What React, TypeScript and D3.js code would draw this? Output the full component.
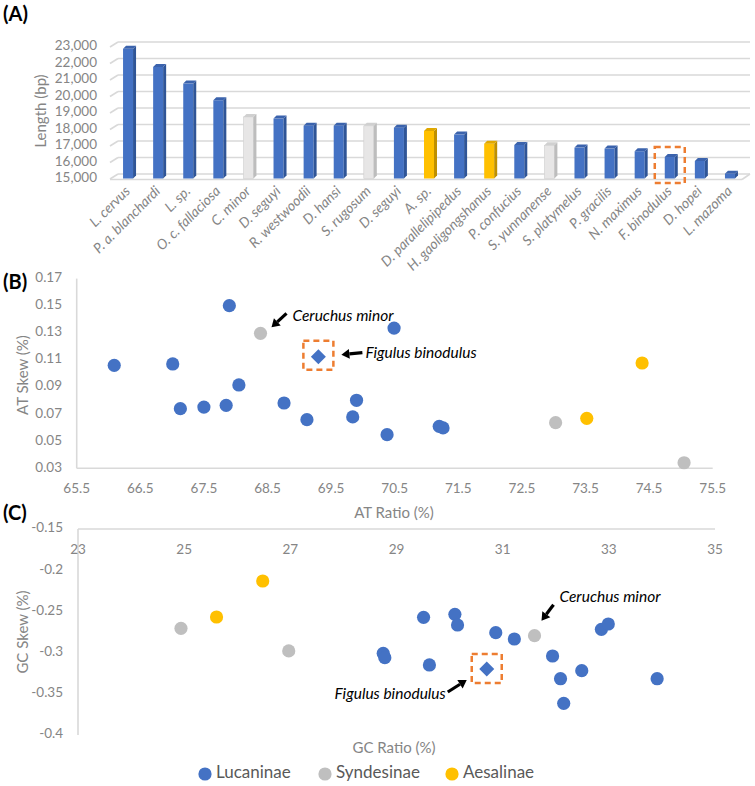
import React from 'react';
import * as d3 from 'd3';

const categories = ['L. cervus', 'P. a. blanchardi', 'L. sp.', 'O. c. fallaciosa', 'C. minor', 'D. seguyi', 'R. westwoodii', 'D. hansi', 'S. rugosum', 'D. seguyi', 'A. sp.', 'D. parallelipipedus', 'H. gaoligongshanus', 'P. confucius', 'S. yunnanense', 'S. platymelus', 'P. gracilis', 'N. maximus', 'F. binodulus', 'D. hopei', 'L. mazoma'];
const lengths = [22850, 21750, 20740, 19730, 18720, 18620, 18190, 18190, 18180, 18070, 17870, 17650, 17100, 17020, 17000, 16860, 16800, 16640, 16290, 16050, 15280];
const barGroups = ['Lucaninae', 'Lucaninae', 'Lucaninae', 'Lucaninae', 'Syndesinae', 'Lucaninae', 'Lucaninae', 'Lucaninae', 'Syndesinae', 'Lucaninae', 'Aesalinae', 'Lucaninae', 'Aesalinae', 'Lucaninae', 'Syndesinae', 'Lucaninae', 'Lucaninae', 'Lucaninae', 'Lucaninae', 'Lucaninae', 'Lucaninae'];
const highlightCategory = 'F. binodulus';
const lengthTicks = [15000, 16000, 17000, 18000, 19000, 20000, 21000, 22000, 23000];

const atRatio = [67.90, 66.09, 67.01, 68.05, 67.13, 67.50, 67.85, 68.76, 69.12, 69.84, 69.90, 70.49, 70.38, 71.20, 71.26, 68.39, 73.03, 75.05, 73.52, 74.39];
const atSkew = [0.150, 0.106, 0.107, 0.0915, 0.074, 0.0752, 0.0765, 0.0782, 0.0659, 0.0679, 0.0802, 0.1335, 0.0548, 0.0610, 0.0598, 0.1296, 0.0637, 0.0341, 0.0669, 0.1077];
const atGroups = ['Lucaninae', 'Lucaninae', 'Lucaninae', 'Lucaninae', 'Lucaninae', 'Lucaninae', 'Lucaninae', 'Lucaninae', 'Lucaninae', 'Lucaninae', 'Lucaninae', 'Lucaninae', 'Lucaninae', 'Lucaninae', 'Lucaninae', 'Syndesinae', 'Syndesinae', 'Syndesinae', 'Aesalinae', 'Aesalinae'];
const figulusAT = [69.30, 0.1124];
const ceruchusAT = [68.39, 0.1296];
const atXTicks = ['65.5', '66.5', '67.5', '68.5', '69.5', '70.5', '71.5', '72.5', '73.5', '74.5', '75.5'];
const atYTicks = ['0.03', '0.05', '0.07', '0.09', '0.11', '0.13', '0.15', '0.17'];

const gcRatio = [29.51, 30.10, 30.15, 30.87, 31.22, 28.75, 28.78, 29.62, 31.94, 32.49, 32.09, 32.15, 32.86, 32.99, 33.91, 24.94, 26.97, 31.60, 26.48, 25.61];
const gcSkew = [-0.2572, -0.2536, -0.2665, -0.2758, -0.2835, -0.3009, -0.3061, -0.315, -0.3041, -0.3219, -0.3317, -0.3616, -0.2718, -0.2653, -0.3317, -0.2705, -0.298, -0.2795, -0.2131, -0.2568];
const gcGroups = ['Lucaninae', 'Lucaninae', 'Lucaninae', 'Lucaninae', 'Lucaninae', 'Lucaninae', 'Lucaninae', 'Lucaninae', 'Lucaninae', 'Lucaninae', 'Lucaninae', 'Lucaninae', 'Lucaninae', 'Lucaninae', 'Lucaninae', 'Syndesinae', 'Syndesinae', 'Syndesinae', 'Aesalinae', 'Aesalinae'];
const figulusGC = [30.70, -0.3199];
const ceruchusGC = [31.60, -0.2795];
const gcXTicks = ['23', '25', '27', '29', '31', '33', '35'];
const gcYTicks = ['-0.4', '-0.35', '-0.3', '-0.25', '-0.2', '-0.15'];

const legendItems = ['Lucaninae', 'Syndesinae', 'Aesalinae'];

const scatterColor: Record<string, string> = { Lucaninae: '#4472C4', Syndesinae: '#BFBFBF', Aesalinae: '#FFC000' };
const barFront: Record<string, string> = { Lucaninae: '#4472C4', Syndesinae: '#E7E6E6', Aesalinae: '#FFC000' };
const barSide: Record<string, string> = { Lucaninae: '#2F5597', Syndesinae: '#BDBDBD', Aesalinae: '#BF9000' };
const barTop: Record<string, string> = { Lucaninae: '#3B63AD', Syndesinae: '#D0D0D0', Aesalinae: '#E0A800' };

const FONT = 'Lato, "Open Sans", sans-serif';
const TICK = '#858585';
const AXIS = '#D9D9D9';
const ORANGE = '#ED7D31';

function Arrow({ x1, y1, x2, y2 }: { x1: number; y1: number; x2: number; y2: number }) {
  const ang = Math.atan2(y2 - y1, x2 - x1);
  const hl = 8, hw = 5;
  const bx = x2 - hl * Math.cos(ang), by = y2 - hl * Math.sin(ang);
  const px = -Math.sin(ang) * hw, py = Math.cos(ang) * hw;
  return (
    <g>
      <line x1={x1} y1={y1} x2={bx} y2={by} stroke="#000" strokeWidth={3.2} />
      <polygon points={`${x2},${y2} ${bx + px},${by + py} ${bx - px},${by - py}`} fill="#000" />
    </g>
  );
}

function Marker({ x, y, color, diamond }: { x: number; y: number; color: string; diamond?: boolean }) {
  if (diamond) {
    const s = 7.5;
    return <polygon points={`${x},${y - s} ${x + s},${y} ${x},${y + s} ${x - s},${y}`} fill={color} />;
  }
  return <circle cx={x} cy={y} r={6.6} fill={color} />;
}

export default function App() {
  // Panel A
  const xA = d3.scaleBand<number>().domain(categories.map((_, i) => i)).range([113, 745]);
  const yA = d3.scaleLinear().domain([15000, 23000]).range([174, 42]);
  const depthX = 8, depthY = 5;
  const frontBase = 178.5;
  const bw = 10, bd = 3;

  // Panel B
  const xB = d3.scaleLinear().domain([65.5, 75.5]).range([76.7, 712.7]);
  const yB = d3.scaleLinear().domain([0.03, 0.17]).range([468.3, 278.6]);

  // Panel C
  const xC = d3.scaleLinear().domain([23, 35]).range([78, 715]);
  const yC = d3.scaleLinear().domain([-0.4, -0.15]).range([735, 529]);

  const hiIdx = categories.indexOf(highlightCategory);
  const hiX = (xA(hiIdx) as number) + xA.bandwidth() / 2;

  const fbBx = xB(figulusAT[0]), fbBy = yB(figulusAT[1]);
  const cmBx = xB(ceruchusAT[0]), cmBy = yB(ceruchusAT[1]);
  const fbCx = xC(figulusGC[0]), fbCy = yC(figulusGC[1]);
  const cmCx = xC(ceruchusGC[0]), cmCy = yC(ceruchusGC[1]);

  return (
    <svg width={755} height={786} style={{ position: 'absolute', left: 0, top: 0, background: '#fff' }} fontFamily={FONT}>
      <rect x={0} y={0} width={755} height={786} fill="#fff" />
      {/* Panel labels */}
      <text x={3} y={21} fontSize={20} fontWeight="bold" fill="#000">(A)</text>
      <text x={3} y={289} fontSize={20} fontWeight="bold" fill="#000">(B)</text>
      <text x={3} y={520} fontSize={20} fontWeight="bold" fill="#000">(C)</text>

      {/* ===== Panel A ===== */}
      {lengthTicks.map((t) => (
        <g key={'ga' + t}>
          <line x1={110} y1={yA(t) + depthY} x2={110 + depthX} y2={yA(t)} stroke={AXIS} strokeWidth={1.6} />
          <line x1={110 + depthX} y1={yA(t)} x2={750} y2={yA(t)} stroke={AXIS} strokeWidth={1.6} />
          <text x={97} y={yA(t) + depthY} fontSize={13.5} fill={TICK} textAnchor="end" dominantBaseline="middle">{d3.format(',')(t)}</text>
        </g>
      ))}
      <line x1={110} y1={frontBase + 1} x2={742} y2={frontBase + 1} stroke={AXIS} strokeWidth={1.6} />
      <line x1={742} y1={frontBase + 1} x2={750} y2={yA(15000)} stroke={AXIS} strokeWidth={1.6} />
      <text transform={`translate(46,111) rotate(-90)`} fontSize={15} fill={TICK} textAnchor="middle">Length (bp)</text>
      {lengths.map((v, i) => {
        const cx = (xA(i) as number) + xA.bandwidth() / 2;
        const g = barGroups[i];
        const top = yA(v) + 4.3;
        const x0 = cx - bw / 2, x1 = cx + bw / 2;
        return (
          <g key={'bar' + i}>
            <rect x={x0} y={top} width={bw} height={frontBase - top} fill={barFront[g]} stroke={g === 'Syndesinae' ? '#CFCFCF' : 'none'} strokeWidth={0.6} />
            <polygon points={`${x1},${top} ${x1 + bd},${top - bd} ${x1 + bd},${frontBase - bd} ${x1},${frontBase}`} fill={barSide[g]} />
            <polygon points={`${x0},${top} ${x1},${top} ${x1 + bd},${top - bd} ${x0 + bd},${top - bd}`} fill={barTop[g]} />
          </g>
        );
      })}
      {categories.map((c, i) => {
        const cx = (xA(i) as number) + xA.bandwidth() / 2;
        return (
          <text key={'lab' + i} transform={`translate(${cx + 3},${192}) rotate(-45)`} fontSize={14} fontStyle="italic" fill={TICK} textAnchor="end">{c}</text>
        );
      })}
      <rect x={hiX - 15} y={147} width={30} height={36} fill="none" stroke={ORANGE} strokeWidth={2.5} strokeDasharray="6,4" />

      {/* ===== Panel B ===== */}
      <line x1={xB(65.5)} y1={yB(0.17)} x2={xB(65.5)} y2={yB(0.03)} stroke={AXIS} strokeWidth={1.6} />
      <line x1={xB(65.5)} y1={yB(0.03)} x2={xB(75.5)} y2={yB(0.03)} stroke={AXIS} strokeWidth={1.6} />
      {atXTicks.map((t) => (
        <text key={'bx' + t} x={xB(+t)} y={493} fontSize={13.5} fill={TICK} textAnchor="middle">{t}</text>
      ))}
      {atYTicks.map((t) => (
        <text key={'by' + t} x={62} y={yB(+t)} fontSize={13.5} fill={TICK} textAnchor="end" dominantBaseline="middle">{t}</text>
      ))}
      <text x={394} y={518} fontSize={15} fill={TICK} textAnchor="middle">AT Ratio (%)</text>
      <text transform={`translate(28,375) rotate(-90)`} fontSize={15} fill={TICK} textAnchor="middle">AT Skew (%)</text>
      {atRatio.map((v, i) => (
        <Marker key={'bp' + i} x={xB(v)} y={yB(atSkew[i])} color={scatterColor[atGroups[i]]} />
      ))}
      <Marker x={fbBx} y={fbBy} color={scatterColor.Lucaninae} diamond />
      <rect x={fbBx - 15} y={fbBy - 16} width={30} height={29} fill="none" stroke={ORANGE} strokeWidth={2.5} strokeDasharray="6,4" />
      <Arrow x1={fbBx + 44} y1={fbBy - 4} x2={fbBx + 23} y2={fbBy - 2} />
      <text x={fbBx + 47} y={fbBy + 1} fontSize={15.5} fontStyle="italic" fill="#000">Figulus binodulus</text>
      <Arrow x1={cmBx + 26} y1={cmBy - 20} x2={cmBx + 11} y2={cmBy - 6} />
      <text x={cmBx + 32} y={cmBy - 12} fontSize={15.5} fontStyle="italic" fill="#000">Ceruchus minor</text>

      {/* ===== Panel C ===== */}
      <line x1={xC(23)} y1={yC(-0.15)} x2={xC(23)} y2={yC(-0.4)} stroke={AXIS} strokeWidth={1.6} />
      <line x1={xC(23)} y1={yC(-0.15)} x2={xC(35)} y2={yC(-0.15)} stroke={AXIS} strokeWidth={1.6} />
      {gcXTicks.map((t) => (
        <text key={'cx' + t} x={xC(+t)} y={554} fontSize={13.5} fill={TICK} textAnchor="middle">{t}</text>
      ))}
      {gcYTicks.map((t) => (
        <text key={'cy' + t} x={63} y={yC(+t)} fontSize={13.5} fill={TICK} textAnchor="end" dominantBaseline="middle">{t}</text>
      ))}
      <text x={394} y={753} fontSize={15} fill={TICK} textAnchor="middle">GC Ratio (%)</text>
      <text transform={`translate(28,632) rotate(-90)`} fontSize={15} fill={TICK} textAnchor="middle">GC Skew (%)</text>
      {gcRatio.map((v, i) => (
        <Marker key={'cp' + i} x={xC(v)} y={yC(gcSkew[i])} color={scatterColor[gcGroups[i]]} />
      ))}
      <Marker x={fbCx} y={fbCy} color={scatterColor.Lucaninae} diamond />
      <rect x={fbCx - 15} y={fbCy - 15} width={30} height={29} fill="none" stroke={ORANGE} strokeWidth={2.5} strokeDasharray="6,4" />
      <Arrow x1={fbCx - 39} y1={fbCy + 23} x2={fbCx - 20} y2={fbCy + 11} />
      <text x={fbCx - 41} y={fbCy + 30} fontSize={15.5} fontStyle="italic" fill="#000" textAnchor="end">Figulus binodulus</text>
      <Arrow x1={cmCx + 19} y1={cmCy - 31} x2={cmCx + 7} y2={cmCy - 15} />
      <text x={cmCx + 25} y={cmCy - 34} fontSize={15.5} fontStyle="italic" fill="#000">Ceruchus minor</text>

      {/* Legend */}
      {(() => {
        const pos = [205, 325, 452];
        return legendItems.map((g, i) => (
          <g key={'lg' + g}>
            <circle cx={pos[i]} cy={774} r={6.6} fill={scatterColor[g]} />
            <text x={pos[i] + 11} y={774} fontSize={17} fill="#595959" dominantBaseline="middle">{g}</text>
          </g>
        ));
      })()}
    </svg>
  );
}
